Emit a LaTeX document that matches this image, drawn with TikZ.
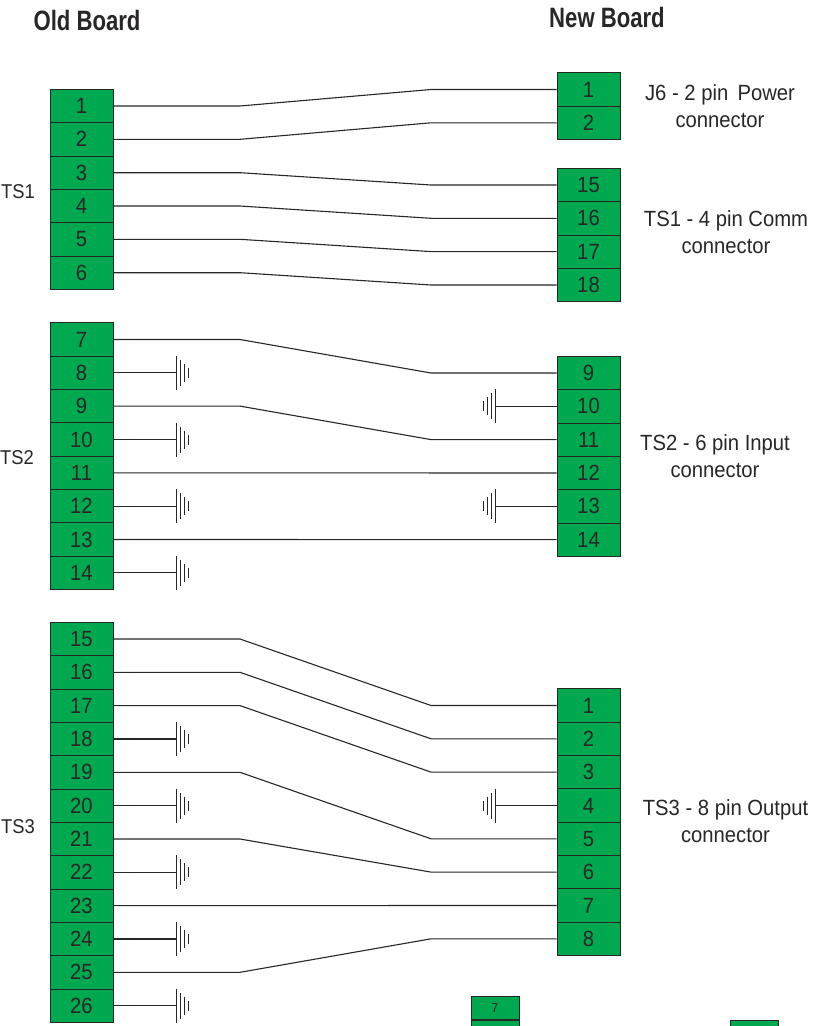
\documentclass[tikz,border=0pt]{standalone}
\usepackage{fontspec}
\setmainfont[FakeStretch=0.92]{Liberation Sans}
\newfontfamily\titlefont[FakeStretch=0.79]{Liberation Sans}
\usepackage{tikz}
\usetikzlibrary{positioning}
\definecolor{termgreen}{RGB}{0,169,79}
\definecolor{ink}{RGB}{40,38,38}
\tikzstyle{term} = [draw=ink, fill=termgreen, text=ink, line width=0.8pt, minimum width=63pt, minimum height=33.3pt, inner sep=0pt, font=\fontsize{22}{22}\selectfont]
\tikzstyle{smallterm} = [term, minimum width=48pt, minimum height=23.5pt, font=\fontsize{13}{13}\selectfont]
\tikzstyle{label} = [text=ink, align=center, inner sep=0pt, font=\fontsize{22}{27}\selectfont]
\tikzstyle{groupname} = [label, font=\fontsize{20}{27}\selectfont]
\tikzstyle{heading} = [text=ink, inner sep=0pt, font=\titlefont\bfseries\fontsize{28}{28}\selectfont]
\tikzstyle{line} = [draw=ink, line width=1.1pt]
\tikzset{
	ground/.pic={
		\draw [ink, line width=0.9pt] (0,-17) -- (0,17);
		\draw [ink, line width=0.9pt] (4,-13) -- (4,13);
		\draw [ink, line width=0.9pt] (8,-9) -- (8,9);
		\draw [ink, line width=0.9pt] (12,-5) -- (12,5);
	}
}

\begin{document}
\begin{tikzpicture}[x=1pt, y=-1pt]
	\useasboundingbox (0,0) rectangle (812,1026);
	\clip (0,0) rectangle (812,1026);
	% Headings and group names
	\node [heading] (OldTitle) at (87,20) {Old Board};
	\node [heading] (NewTitle) at (607,17) {New Board};
	\node [groupname] (GroupA) at (18,192) {TS1};
	\node [groupname] (GroupB) at (17,458) {TS2};
	\node [groupname] (GroupC) at (18,827) {TS3};
	\node [label] (LabelJ) at (720,106.5) {J6 - 2 pin\, Power\\connector};
	\node [label] (LabelA) at (726,232.5) {TS1 - 4 pin Comm\\connector};
	\node [label] (LabelB) at (715,456) {TS2 - 6 pin Input\\connector};
	\node [label] (LabelC) at (725.5,821) {TS3 - 8 pin Output\\connector};
	% Bend columns
	\coordinate (bendL) at (240,0);
	\coordinate (bendR) at (431,0);
	\coordinate (gndL) at (176,0);
	\coordinate (gndR) at (495,0);
	%% Old board
	\node [term] at (81.5,106) (O1) {1};
	\node [term] at (81.5,139.3) (O2) {2};
	\node [term] at (81.5,172.7) (O3) {3};
	\node [term] at (81.5,206) (O4) {4};
	\node [term] at (81.5,239.3) (O5) {5};
	\node [term] at (81.5,272.7) (O6) {6};
	\node [term] at (81.5,339.5) (O7) {7};
	\node [term] at (81.5,372.8) (O8) {8};
	\node [term] at (81.5,406.1) (O9) {9};
	\node [term] at (81.5,439.5) (O10) {10};
	\node [term] at (81.5,472.8) (O11) {11};
	\node [term] at (81.5,506.1) (O12) {12};
	\node [term] at (81.5,539.5) (O13) {13};
	\node [term] at (81.5,572.8) (O14) {14};
	\node [term] at (81.5,639) (O15) {15};
	\node [term] at (81.5,672.3) (O16) {16};
	\node [term] at (81.5,705.6) (O17) {17};
	\node [term] at (81.5,739) (O18) {18};
	\node [term] at (81.5,772.3) (O19) {19};
	\node [term] at (81.5,805.6) (O20) {20};
	\node [term] at (81.5,839) (O21) {21};
	\node [term] at (81.5,872.3) (O22) {22};
	\node [term] at (81.5,905.6) (O23) {23};
	\node [term] at (81.5,939) (O24) {24};
	\node [term] at (81.5,972.3) (O25) {25};
	\node [term] at (81.5,1005.6) (O26) {26};
	%% New board
	\node [term] at (588.5,89.5) (J1) {1};
	\node [term] at (588.5,122.8) (J2) {2};
	\node [term] at (588.5,185) (A15) {15};
	\node [term] at (588.5,218.3) (A16) {16};
	\node [term] at (588.5,251.6) (A17) {17};
	\node [term] at (588.5,285) (A18) {18};
	\node [term] at (588.5,373) (B9) {9};
	\node [term] at (588.5,406.3) (B10) {10};
	\node [term] at (588.5,439.6) (B11) {11};
	\node [term] at (588.5,473) (B12) {12};
	\node [term] at (588.5,506.3) (B13) {13};
	\node [term] at (588.5,539.6) (B14) {14};
	\node [term] at (588.5,705.5) (C1) {1};
	\node [term] at (588.5,738.8) (C2) {2};
	\node [term] at (588.5,772.1) (C3) {3};
	\node [term] at (588.5,805.5) (C4) {4};
	\node [term] at (588.5,838.8) (C5) {5};
	\node [term] at (588.5,872.1) (C6) {6};
	\node [term] at (588.5,905.5) (C7) {7};
	\node [term] at (588.5,938.8) (C8) {8};
	% Cut off at the page edge
	\node [smallterm] at (495,1007.7) (S7) {7};
	\node [smallterm, below=0pt of S7] (S8) {};
	\node [smallterm] at (754.5,1032.5) (T1) {};
	%% Wires
	% TS1
	\path [line] (O1.east) -- (O1 -| bendL) -- (J1 -| bendR) -- (J1.west);
	\path [line] (O2.east) -- (O2 -| bendL) -- (J2 -| bendR) -- (J2.west);
	\path [line] (O3.east) -- (O3 -| bendL) -- (A15 -| bendR) -- (A15.west);
	\path [line] (O4.east) -- (O4 -| bendL) -- (A16 -| bendR) -- (A16.west);
	\path [line] (O5.east) -- (O5 -| bendL) -- (A17 -| bendR) -- (A17.west);
	\path [line] (O6.east) -- (O6 -| bendL) -- (A18 -| bendR) -- (A18.west);
	% TS2
	\path [line] (O7.east) -- (O7 -| bendL) -- (B9 -| bendR) -- (B9.west);
	\path [line] (O9.east) -- (O9 -| bendL) -- (B11 -| bendR) -- (B11.west);
	\path [line] (O11.east) -- (B12.west);
	\path [line] (O13.east) -- (B14.west);
	% TS3
	\path [line] (O15.east) -- (O15 -| bendL) -- (C1 -| bendR) -- (C1.west);
	\path [line] (O16.east) -- (O16 -| bendL) -- (C2 -| bendR) -- (C2.west);
	\path [line] (O17.east) -- (O17 -| bendL) -- (C3 -| bendR) -- (C3.west);
	\path [line] (O19.east) -- (O19 -| bendL) -- (C5 -| bendR) -- (C5.west);
	\path [line] (O21.east) -- (O21 -| bendL) -- (C6 -| bendR) -- (C6.west);
	\path [line] (O23.east) -- (C7.west);
	\path [line] (O25.east) -- (O25 -| bendL) -- (C8 -| bendR) -- (C8.west);
	%% Grounds
	\path [line] (O8.east) -- (O8 -| gndL) pic {ground};
	\path [line] (O10.east) -- (O10 -| gndL) pic {ground};
	\path [line] (O12.east) -- (O12 -| gndL) pic {ground};
	\path [line] (O14.east) -- (O14 -| gndL) pic {ground};
	\path [line] (O18.east) -- (O18 -| gndL) pic {ground};
	\path [line] (O20.east) -- (O20 -| gndL) pic {ground};
	\path [line] (O22.east) -- (O22 -| gndL) pic {ground};
	\path [line] (O24.east) -- (O24 -| gndL) pic {ground};
	\path [line] (O26.east) -- (O26 -| gndL) pic {ground};
	\path [line] (B10.west) -- (B10 -| gndR) pic [xscale=-1] {ground};
	\path [line] (B13.west) -- (B13 -| gndR) pic [xscale=-1] {ground};
	\path [line] (C4.west) -- (C4 -| gndR) pic [xscale=-1] {ground};
\end{tikzpicture}
\end{document}
